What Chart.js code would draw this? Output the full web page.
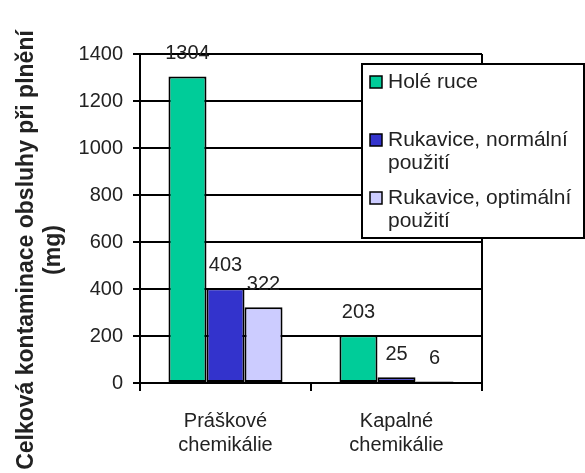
<!DOCTYPE html>
<html>
<head>
<meta charset="utf-8">
<script src="https://cdn.jsdelivr.net/npm/chart.js@4/dist/chart.umd.min.js"></script>
<style>
  html, body { margin: 0; padding: 0; background: #fff; }
  #wrap { width: 585px; height: 473px; }
</style>
</head>
<body>
<div id="wrap"><canvas id="contamChart" width="585" height="473"></canvas></div>
<script>
const categories = [['Práškové', 'chemikálie'], ['Kapalné', 'chemikálie']];
const seriesNames = ['Holé ruce', 'Rukavice, normální použití', 'Rukavice, optimální použití'];
const bareHands = [1304, 203];
const glovesNormal = [403, 25];
const glovesOptimal = [322, 6];
const yTicks = { min: 0, max: 1400, step: 200 };
const yTitle = ['Celková kontaminace obsluhy při plnění', '(mg)'];

const colors = ['#00CC99', '#3333CC', '#CCCCFF'];
const textColor = '#222';
const font = 'Arial, "Liberation Sans", sans-serif';

// value labels above every bar
const valueLabels = {
    id: 'valueLabels',
    afterDatasetsDraw(chart) {
        const c = chart.ctx;
        c.save();
        c.font = '20px ' + font;
        c.fillStyle = textColor;
        c.textAlign = 'center';
        c.textBaseline = 'middle';
        chart.data.datasets.forEach((ds, i) => {
            chart.getDatasetMeta(i).data.forEach((bar, j) => {
                c.fillText(String(ds.data[j]), bar.x, bar.y - 23);
            });
        });
        c.restore();
    }
};

// right edge of the plot frame
const plotFrame = {
    id: 'plotFrame',
    beforeDatasetsDraw(chart) {
        const a = chart.chartArea;
        const c = chart.ctx;
        c.save();
        c.strokeStyle = '#000';
        c.lineWidth = 2;
        c.beginPath();
        c.moveTo(a.right, a.top);
        c.lineTo(a.right, a.bottom);
        c.stroke();
        c.restore();
    }
};

// two-line rotated y axis title
const sideTitle = {
    id: 'sideTitle',
    afterDraw(chart) {
        const c = chart.ctx;
        c.save();
        c.font = 'bold 23px ' + font;
        c.fillStyle = textColor;
        c.textAlign = 'center';
        c.textBaseline = 'alphabetic';
        const xs = [33, 60];
        yTitle.forEach((line, i) => {
            c.save();
            c.translate(xs[i], 250);
            c.rotate(-Math.PI / 2);
            c.fillText(line, 0, 0);
            c.restore();
        });
        c.restore();
    }
};

// boxed legend with wrapped labels, overlapping the plot
const boxLegend = {
    id: 'boxLegend',
    afterDraw(chart) {
        const c = chart.ctx;
        const box = { x: 362, y: 64, w: 222, h: 174 };
        c.save();
        c.fillStyle = '#fff';
        c.fillRect(box.x, box.y, box.w, box.h);
        c.strokeStyle = '#000';
        c.lineWidth = 2;
        c.strokeRect(box.x, box.y, box.w, box.h);
        c.font = '21px ' + font;
        c.textBaseline = 'middle';
        c.textAlign = 'left';
        const textX = box.x + 26;
        const maxW = box.x + box.w - textX - 2;
        const rowY = [82, 140, 198];
        chart.data.datasets.forEach((ds, i) => {
            // wrap label into lines that fit the box
            const words = ds.label.split(' ');
            const lines = [];
            let cur = '';
            words.forEach(w => {
                const t = cur ? cur + ' ' + w : w;
                if (cur && c.measureText(t).width > maxW) { lines.push(cur); cur = w; }
                else cur = t;
            });
            lines.push(cur);
            const y = rowY[i];
            c.fillStyle = ds.backgroundColor;
            c.fillRect(box.x + 8, y - 6, 12, 12);
            c.strokeStyle = '#000';
            c.lineWidth = 1.5;
            c.strokeRect(box.x + 8, y - 6, 12, 12);
            c.fillStyle = textColor;
            lines.forEach((ln, k) => c.fillText(ln, textX, y + k * 23));
        });
        c.restore();
    }
};

const series = [bareHands, glovesNormal, glovesOptimal];

new Chart(document.getElementById('contamChart'), {
    type: 'bar',
    data: {
        labels: categories,
        datasets: series.map((d, i) => ({
            label: seriesNames[i],
            data: d,
            backgroundColor: colors[i],
            borderColor: '#000',
            borderWidth: 2,
            borderSkipped: false,
            categoryPercentage: 0.667,
            barPercentage: 1
        }))
    },
    options: {
        responsive: false,
        animation: false,
        layout: { padding: { top: 54, right: 103, left: 0, bottom: 0 } },
        plugins: {
            legend: { display: false },
            tooltip: { enabled: false }
        },
        scales: {
            x: {
                offset: true,
                grid: { offset: true, drawOnChartArea: false, color: '#000', lineWidth: 2, tickLength: 8 },
                border: { display: true, color: '#000', width: 2 },
                ticks: { color: textColor, font: { family: font, size: 20 }, padding: 18, maxRotation: 0 },
                afterFit(scale) { scale.height = 90; }
            },
            y: {
                min: yTicks.min,
                max: yTicks.max,
                grid: { color: '#000', lineWidth: 2, tickLength: 7 },
                border: { display: true, color: '#000', width: 2 },
                ticks: {
                    stepSize: yTicks.step,
                    color: textColor,
                    font: { family: font, size: 20 },
                    padding: 10,
                    callback: v => String(v)
                },
                afterFit(scale) { scale.width = 140; }
            }
        }
    },
    plugins: [plotFrame, valueLabels, sideTitle, boxLegend]
});
</script>
</body>
</html>
